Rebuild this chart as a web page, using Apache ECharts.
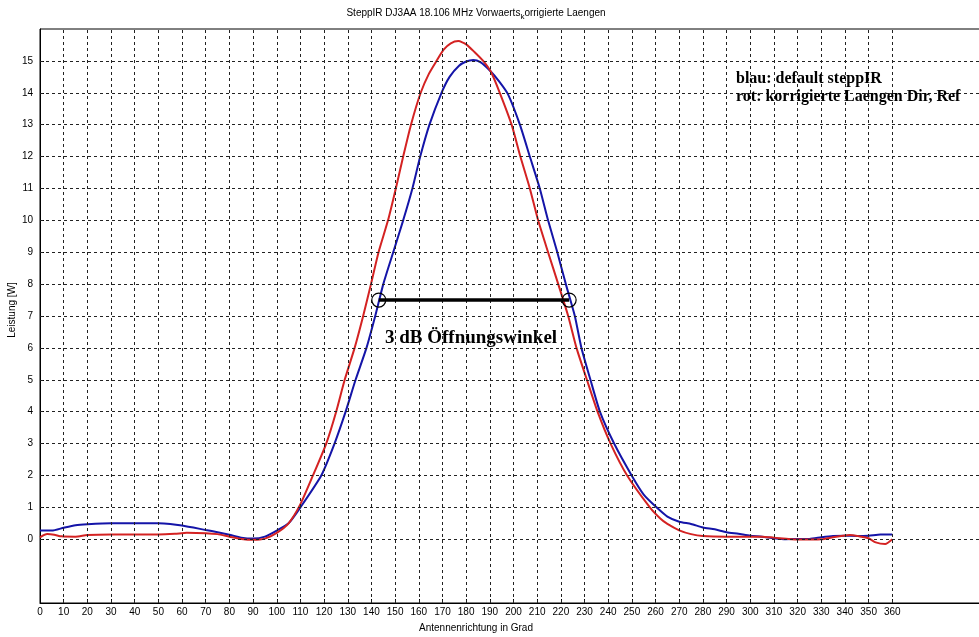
<!DOCTYPE html>
<html>
<head>
<meta charset="utf-8">
<script src="https://cdn.jsdelivr.net/npm/echarts@6/dist/echarts.min.js"></script>
<style>html,body{margin:0;padding:0;background:#fff}#c{width:979px;height:637px}</style>
</head>
<body>
<div id="c"></div>
<script>
// ---- data ----
const xTicks = [0,10,20,30,40,50,60,70,80,90,100,110,120,130,140,150,160,170,180,190,200,210,220,230,240,250,260,270,280,290,300,310,320,330,340,350,360];
const yTicks = [0,1,2,3,4,5,6,7,8,9,10,11,12,13,14,15];

// blau: default steppIR
const blueX = [0,5,10,15,20,30,40,50,55,60,70,75,80,85,90,95,100,105,110,118.8,124.4,129.1,133.3,137.9,141.6,145,149.2,153.4,157.3,160.6,164.5,169.6,173,177,180,183,186,190,194,197.7,202.7,206.9,211.1,214.6,218.5,222.1,225.9,228.7,232.5,236.5,242.5,249.9,255,260.4,265,270,275,280,285,290,295,300,305,310,315,320,325,330,335,340,345,350,355,360];
const blueY = [0.27,0.27,0.36,0.44,0.47,0.5,0.5,0.5,0.48,0.43,0.29,0.22,0.14,0.05,0.02,0.08,0.27,0.5,1.0,2,3,4,5,6,7,8,9,10,11,12,13,14,14.5,14.85,14.98,15.03,14.96,14.7,14.35,13.95,13,12,11,10,9,8,7,6,5,4,3,2,1.4,1,0.71,0.55,0.48,0.37,0.31,0.22,0.17,0.11,0.08,0.03,0,0.01,0.01,0.06,0.1,0.11,0.1,0.11,0.15,0.15];

// rot: korrigierte Laengen Dir, Ref
const redX = [0,3,6,9,15,20,30,40,50,57,62,70,75,80,85,90,95,100,105,110,115.3,120.9,125.1,128.7,132.9,136.5,139.8,143,147,150.3,153.4,156.7,160.8,164.3,167.5,170.5,173.5,176.7,180,183.5,187.2,190.5,194.2,199.2,202.9,206.9,210.4,214.6,218.9,223.1,226.6,231,235.5,241,248,257.6,262,265,270,275,280,290,300,305,310,320,330,335,342,346,350,353,357,360];
const redY = [0.06,0.16,0.14,0.09,0.08,0.13,0.15,0.15,0.15,0.17,0.2,0.19,0.16,0.08,0.01,-0.02,0.02,0.2,0.5,1.1,2,3,4,5,6,7,8,9,10,11,12,13,14,14.6,15,15.35,15.55,15.62,15.52,15.28,15,14.65,14,13,12,11,10,9,8,7,6,5,4,3,2,1,0.65,0.48,0.28,0.16,0.1,0.08,0.08,0.08,0.05,-0.01,0,0.06,0.13,0.09,0.03,-0.1,-0.15,0];

// 3 dB opening angle marker
const beamX = [143.1, 223.5];
const beamY = [7.5, 7.5];

const titleText = 'SteppIR DJ3AA 18.106 MHz Vorwaerts';
const titleSub = 'k';
const titleRest = 'orrigierte Laengen';
const xName = 'Antennenrichtung in Grad';
const yName = 'Leistung [W]';
const note1 = 'blau: default steppIR';
const note2 = 'rot: korrigierte Laengen Dir, Ref';
const beamText = '3 dB Öffnungswinkel';

const zip = (xs, ys) => xs.map((x, i) => [x, ys[i]]);

const chart = echarts.init(document.getElementById('c'), null, {renderer: 'canvas'});
const sans = 'Liberation Sans, Arial, sans-serif';
const serif = 'Liberation Serif, Times New Roman, serif';
const gridStyle = {color: '#222', width: 1, type: [3, 3]};

chart.setOption({
  animation: false,
  backgroundColor: '#fff',
  grid: {left: 40, right: -8, top: 29, bottom: 34, containLabel: false, outerBoundsMode: 'none',
    show: true, borderColor: '#000', borderWidth: 1, backgroundColor: 'transparent'},
  xAxis: {
    type: 'value', min: 0, max: 400, interval: 10,
    axisLine: {show: true, onZero: false, lineStyle: {color: '#000', width: 1}},
    axisTick: {show: true, inside: true, length: 4, customValues: xTicks, lineStyle: {color: '#000'}},
    axisLabel: {customValues: xTicks, color: '#000', fontFamily: sans, fontSize: 10, margin: 4,
      formatter: v => (v <= 360 ? String(v) : '')},
    splitLine: {show: false}
  },
  yAxis: {
    type: 'value', min: -2, max: 16, interval: 1,
    axisLine: {show: true, onZero: false, lineStyle: {color: '#000', width: 1}},
    axisTick: {show: true, inside: true, length: 4, customValues: yTicks, lineStyle: {color: '#000'}},
    axisLabel: {customValues: yTicks, color: '#000', fontFamily: sans, fontSize: 10, margin: 7,
      formatter: v => (v >= 0 && v <= 15 ? String(v) : '')},
    splitLine: {show: false}
  },
  graphic: [
    {type: 'text', x: 476, y: 13, style: {
      text: '{n|' + titleText + '}{s|' + titleSub + '}{n|' + titleRest + '}',
      align: 'center', verticalAlign: 'middle',
      rich: {n: {fontFamily: sans, fontSize: 10, fill: '#000', lineHeight: 12},
             s: {fontFamily: sans, fontSize: 8, fill: '#000', lineHeight: 8, padding: [8, 0, 0, 0]}}
    }},
    {type: 'text', x: 476, y: 628, style: {text: xName, align: 'center', verticalAlign: 'middle', fontFamily: sans, fontSize: 10, fill: '#000'}},
    {type: 'text', x: 12, y: 310, rotation: Math.PI / 2, style: {text: yName, align: 'center', verticalAlign: 'middle', fontFamily: sans, fontSize: 10, fill: '#000'}},
    {type: 'text', x: 736, y: 71, z: 10, style: {text: note1, align: 'left', verticalAlign: 'alphabetic', fontFamily: serif, fontWeight: 'bold', fontSize: 16, fill: '#000'}},
    {type: 'text', x: 736, y: 89, z: 10, style: {text: note2, align: 'left', verticalAlign: 'alphabetic', fontFamily: serif, fontWeight: 'bold', fontSize: 16, fill: '#000'}},
    {type: 'text', x: 385, y: 329, z: 10, style: {text: beamText, align: 'left', verticalAlign: 'alphabetic', fontFamily: serif, fontWeight: 'bold', fontSize: 19, fill: '#000'}}
  ],
  series: [
    {
      type: 'line', data: [], z: 1, silent: true,
      markLine: {
        silent: true, symbol: ['none', 'none'], animation: false,
        label: {show: false},
        lineStyle: gridStyle,
        emphasis: {disabled: true},
        data: xTicks.filter(v => v > 0).map(v => ({xAxis: v})).concat(yTicks.map(v => ({yAxis: v})))
      }
    },
    {
      name: 'blau', type: 'line', z: 3, data: zip(blueX, blueY), showSymbol: false, smooth: 0.2,
      lineStyle: {color: '#1414a8', width: 2}, itemStyle: {color: '#1414a8'}
    },
    {
      name: 'rot', type: 'line', z: 4, data: zip(redX, redY), showSymbol: false, smooth: 0.2,
      lineStyle: {color: '#d42222', width: 2}, itemStyle: {color: '#d42222'}
    },
    {
      name: '3dB', type: 'line', z: 5, data: zip(beamX, beamY), showSymbol: true, symbol: 'circle', symbolSize: 14,
      lineStyle: {color: '#000', width: 3.5},
      itemStyle: {color: 'rgba(0,0,0,0)', borderColor: '#000', borderWidth: 1.2}
    }
  ]
});
</script>
</body>
</html>
